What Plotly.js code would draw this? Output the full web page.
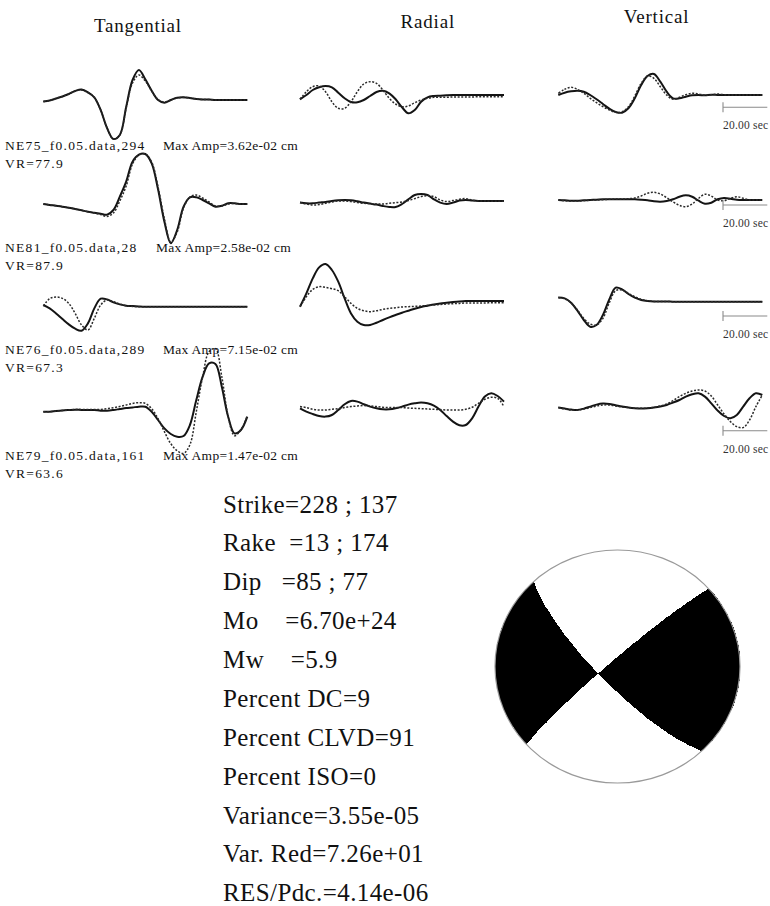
<!DOCTYPE html>
<html><head><meta charset="utf-8">
<script src="https://cdn.plot.ly/plotly-3.0.1.min.js"></script>
<style>html,body{margin:0;padding:0;background:#fff}</style>
</head><body>
<div id="chart" style="width:770px;height:906px"></div>
<script>
// ---------------- DATA ----------------
const components = ["Tangential", "Radial", "Vertical"];
const stations = ["NE75_f0.05.data,294", "NE81_f0.05.data,28", "NE76_f0.05.data,289", "NE79_f0.05.data,161"];
const maxAmp = ["3.62e-02", "2.58e-02", "7.15e-02", "1.47e-02"];
const varRed = ["77.9", "87.9", "67.3", "63.6"];
const scaleBarSeconds = 20;
const scaleBarLabel = "20.00 sec";

// time (s) of each sample
const time = [0,2.5,5,7.5,10,12.5,15,17.5,20,22.5,25,27.5,30,32.5,35,37.5,40,42.5,45,47.5,50,52.5,55,57.5,60,62.5,65,67.5,70,72.5,75,77.5,80];

// observed (solid) and synthetic (dashed) waveforms, relative amplitude
const T1_obs = [-1.5,-0.5,1.5,3.5,6,9,10.5,7.7,2.7,-10,-28,-39,-35,-7,20,30,20.7,9.3,0,-2.7,0,2.3,2.7,2,1,0.5,0.5,0,0,0,0,0,0];
const T1_syn = [-1.5,-0.5,1.5,3.5,6,9,10,7.5,2.5,-10,-28,-39,-35,-8,17,25,19,9,0.5,-2,0,2,2.5,2,1,0.5,0.5,0,0,0,0,0,0];
const R1_obs = [-3.3,1,6,8.7,10,8.7,3.3,-2.3,-6,-6.3,-4,0,4,5.3,2.7,-3.3,-11.3,-17.3,-14,-5.7,-1.3,0,0.3,0.7,1,1,1,1,1,1,1,1,1];
const R1_syn = [-3.3,4.3,9.3,10,4.3,-5.7,-12.3,-12.3,-5.7,4.3,12,14.3,12.7,6,-2.3,-8,-10.7,-10,-6.7,-4,-2.3,-1.3,-1.3,-1.3,-1,-1,-1,-1,-0.7,-0.7,-0.7,-0.7,-0.7];
const V1_obs = [1,3.3,4.7,5.3,4.3,1,-3.3,-8,-12.7,-16,-16.7,-12.3,-2.3,11,20,22,14.3,4.3,-2.3,-2.3,-0.7,0.7,1,0.7,1.3,1,1,1,1,1,1,1,1];
const V1_syn = [2.7,6.7,8.7,6.7,2.7,-2.3,-6.7,-10.7,-14,-16.3,-15.7,-10.7,0,12.7,20,17.7,9.3,1,-3.3,-1.3,1.3,2.7,2,0.7,1.3,2,1.3,1,1,1,1,1,1];

const T2_obs = [0,-1,-1.7,-2.7,-3.7,-5,-6.3,-7.7,-8.7,-9.7,-10.7,-6,7.3,22.3,42.3,49.3,50,40.7,14.7,-17.7,-39.3,-26,-2.7,6.7,6.7,4,0.7,-2.7,-1.7,0.7,0.7,0,0];
const T2_syn = [0,-1,-1.7,-2.7,-3.7,-5,-6.3,-7.7,-9,-10.5,-12.5,-9,3,18,40,49,50,42,17,-15,-38,-28,-4,7,9,6,2,-2,-2,0,0.5,0,0];
const R2_obs = [-1.3,-2,-2,-1.3,-0.7,0.3,1,1.3,1,0,-1.3,-2.3,-3.3,-4.7,-5.7,-5.7,-2.7,2,6.3,7.3,6.3,2,-1.3,-2.7,-1.3,0.7,1.3,0.7,0.3,0.3,0.3,0.3,0.3];
const R2_syn = [-1.3,-2.7,-3.7,-3.3,-2,-0.7,0.3,0.3,-0.3,-1.3,-2,-2.3,-2.7,-2.7,-2,-1.3,-0.7,0.7,2.7,4.7,5.7,4.7,1.3,-0.3,0.7,2,2.7,1.3,0.3,0.3,0,0,0];
const V2_obs = [0,-0.3,-0.7,-0.7,-0.3,0,0.3,0.7,0.7,0.7,0.7,0.7,0.7,0.3,-0.3,-1.3,-1.7,-1,0.7,3.3,4.7,3.3,-0.7,-3.7,-2.7,0.7,2,1.3,0.3,0,0,0,0];
const V2_syn = [0,-0.7,-1,-1,-0.7,-0.3,0,0.3,0.7,1,1,1.3,2,4,6.7,7.7,6,2.3,-2,-5.3,-6.7,-4,1.7,5.7,4,0,-0.7,1.7,3.3,1.7,0,0,0];

const T3_obs = [1.7,-1.7,-6.7,-12.3,-17.7,-22,-24,-16.7,-1.7,8,7.3,4.3,2.3,1,0.7,0.3,0,0,0,0,0,0,0,0,0,0,0,0,0,0,0,0,0];
const T3_syn = [0.7,8,9.7,8.3,3.3,-6.7,-18.3,-23.3,-11.7,1.7,6.7,5,2.7,1,0.3,0,0,0,0,0,0,0,0,0,0,0,0,0,0,0,0,0,0];
const R3_obs = [-5,8.3,23.3,34.3,37.7,31.7,20,3.3,-11.7,-20,-23.3,-23.3,-21,-18.3,-15.7,-13.3,-11,-9,-7,-5.3,-4,-2.7,-1.7,-1,-0.3,0.3,0.7,0.7,0.7,0.7,0.7,0.7,0.7];
const R3_syn = [-5,5,12.3,15,14.3,13,11,5,-1.7,-6.7,-9,-10,-9,-7.7,-6.7,-6,-5.3,-5,-4.7,-4.3,-3.7,-3.3,-2.7,-2.3,-2,-1.7,-1.3,-1.3,-1.3,-1.3,-1,-1,-1];
const V3_obs = [4.3,3.3,-1,-9,-18.3,-25,-23.3,-13.3,2.3,14,12.3,7.7,4,1.7,0.7,0.3,0.3,0.3,0,0,0,0,0,0,0,0,0,0,0,0,0,0,0];
const V3_syn = [4.3,3,-1,-8.3,-16.7,-22.3,-23.3,-16.7,-1,11,11.7,8.3,5,2.3,1,0.3,0.3,0.3,0,0,0,0,0,0,0,0,0,0,0,0,0,0,0];

const T4_obs = [0,0,0.7,1.3,1.7,2,1.7,1.7,1.7,1,1,1.7,2.7,3.7,4.3,5,5,0,-8.3,-16.7,-22.3,-25,-24.3,-13.3,11.7,35,48.3,47.7,25,-5,-21.7,-18.3,-5];
const T4_syn = [0,0,0.7,1.3,1.7,2.3,2.3,2.3,2.3,2.3,3,4,5.3,6.7,8.3,9,8.3,3,-7,-20,-32,-39,-41.7,-33,0,35,60,63,35,-5,-24,-18,-4];
const R4_obs = [0,-3.3,-5.7,-7.7,-8.3,-6.7,-1.7,4,7.3,6.7,4,1.7,0,-1,-1,0,1.7,3.7,5,5.7,5,2.7,-1.7,-7.7,-13.3,-17,-16.7,-10,1.7,11.7,15,12.3,6.7];
const R4_syn = [1.7,0.7,-1,-1.7,-1.7,-1,-0.3,0.7,1.7,2.3,2.7,2.3,1.7,1,0.7,0.7,0.7,0.3,0,-0.3,-0.7,-1,-1.3,-1.7,-1.7,-1.7,-1,1,5,9,11,10,1.7];
const V4_obs = [0.7,-0.3,-1.3,-1.7,-0.3,1.7,3.7,4.7,4.3,3,1.7,0.7,0,-0.3,0,0.7,1.7,3.3,5.7,8.3,11.7,14,15,11.7,5,-2.3,-7.7,-10,-6.7,1.7,10,15,13.3];
const V4_syn = [0.7,-0.7,-1.7,-1.7,-0.7,0.7,2.3,3.3,3.3,2.3,1.3,0.7,0,0,0.3,1,2.3,4.3,7.7,11.7,15,17.3,18.3,17.3,12.3,3.3,-5.7,-13.3,-18.3,-19.3,-11.7,1.7,13.3];

// source parameters
const strike = [228, 137];
const rake = [13, 174];
const dip = [85, 77];
const Mo = "6.70e+24";
const Mw = "5.9";
const percentDC = 9;
const percentCLVD = 91;
const percentISO = 0;
const variance = "3.55e-05";
const varRedTotal = "7.26e+01";
const resPdc = "4.14e-06";

// ---------------- LAYOUT / DRAWING ----------------
const W = 770, H = 906;
const px = x => x / W;
const py = y => 1 - y / H;
const FONT = "Liberation Serif, Times New Roman, serif";

const obs = [[T1_obs, R1_obs, V1_obs], [T2_obs, R2_obs, V2_obs], [T3_obs, R3_obs, V3_obs], [T4_obs, R4_obs, V4_obs]];
const syn = [[T1_syn, R1_syn, V1_syn], [T2_syn, R2_syn, V2_syn], [T3_syn, R3_syn, V3_syn], [T4_syn, R4_syn, V4_syn]];

const colX0 = [43.3, 300, 558.3];          // panel start (px)
const pxPerSec = 2.55;
const rowBase = [[100, 96, 96], [204, 201.3, 200], [306.7, 301.7, 301.7], [411.7, 408.3, 408.3]];
const halfH = 72;

const data = [];
const layout = {
  width: W, height: H,
  margin: {l: 0, r: 0, t: 0, b: 0},
  paper_bgcolor: "#ffffff", plot_bgcolor: "rgba(0,0,0,0)",
  showlegend: false,
  annotations: [], shapes: []
};
const letterSpacing = [];
function addAnn(a, ls) { layout.annotations.push(a); letterSpacing.push(ls || 0); }

const hidden = {visible: false, showgrid: false, zeroline: false, fixedrange: true};

for (let r = 0; r < 4; r++) {
  for (let c = 0; c < 3; c++) {
    const k = r * 3 + c + 1;
    const xa = "xaxis" + k, ya = "yaxis" + k;
    const x0 = colX0[c], b = rowBase[r][c];
    layout[xa] = Object.assign({}, hidden, {
      domain: [px(x0 - 5), Math.min(1, px(x0 + 209))],
      range: [-5 / pxPerSec, 80 + 5 / pxPerSec], anchor: "y" + k
    });
    layout[ya] = Object.assign({}, hidden, {
      domain: [py(b + halfH), py(b - halfH)],
      range: [-halfH, halfH], anchor: "x" + k
    });
    data.push({x: time, y: obs[r][c], xaxis: "x" + k, yaxis: "y" + k, type: "scatter", mode: "lines",
      line: {color: "#141414", width: 2, shape: "spline", smoothing: 1}, hoverinfo: "skip"});
    data.push({x: time, y: syn[r][c], xaxis: "x" + k, yaxis: "y" + k, type: "scatter", mode: "lines",
      line: {color: "#2a2a2a", width: 1.5, dash: "2px,1.6px", shape: "spline", smoothing: 1}, hoverinfo: "skip"});
  }
}

// scale bars (vertical column)
const barOffset = [-11.3, -5, -14.3, -22.4];
const barStart = (723 - colX0[2]) / pxPerSec;
for (let r = 0; r < 4; r++) {
  const k = r * 3 + 3;
  layout.shapes.push({type: "line", xref: "x" + k, yref: "y" + k,
    x0: barStart, x1: barStart + scaleBarSeconds, y0: barOffset[r], y1: barOffset[r],
    line: {color: "#8a8a8a", width: 1.1}});
  layout.shapes.push({type: "line", xref: "x" + k, yref: "y" + k,
    x0: barStart, x1: barStart, y0: barOffset[r] - 5, y1: barOffset[r] + 5,
    line: {color: "#8a8a8a", width: 1.1}});
  addAnn({xref: "x" + k, yref: "y" + k, x: barStart - 0.8, y: barOffset[r] - 18, xanchor: "left", yanchor: "middle",
    text: scaleBarLabel, showarrow: false, align: "left",
    font: {family: FONT, size: 11.5, color: "#333"}}, 0.2);
}

// component titles
const titleX = [137.5, 428, 656], titleY = [25, 21, 17];
components.forEach((t, i) => addAnn({xref: "paper", yref: "paper", x: px(titleX[i]), y: py(titleY[i]),
  xanchor: "center", yanchor: "middle", text: t, showarrow: false, align: "center",
  font: {family: FONT, size: 19, color: "#111"}}, 0.8));

// station labels (two lines each) + max amplitude text
const labMidY = [154.5, 256.5, 358.5, 464.5];
const labFont = 13.5, lineGap = 1.3 * labFont / 2;
const maxAmpX = [162, 155, 162, 162];
stations.forEach((s, i) => {
  addAnn({xref: "paper", yref: "paper", x: px(4), y: py(labMidY[i]), xanchor: "left", yanchor: "middle",
    text: s + "<br>VR=" + varRed[i],
    showarrow: false, align: "left", borderpad: 0,
    font: {family: FONT, size: labFont, color: "#111"}}, 1.3);
  addAnn({xref: "paper", yref: "paper", x: px(maxAmpX[i]), y: py(labMidY[i] - lineGap), xanchor: "left", yanchor: "middle",
    text: "Max Amp=" + maxAmp[i] + " cm",
    showarrow: false, align: "left", borderpad: 0,
    font: {family: FONT, size: labFont, color: "#111"}}, 0.3);
});

// source parameter block
const nb = "\u00a0";
const params = [
  "Strike=" + strike[0] + " ; " + strike[1],
  "Rake" + nb.repeat(2) + "=" + rake[0] + " ; " + rake[1],
  "Dip" + nb.repeat(3) + "=" + dip[0] + " ; " + dip[1],
  "Mo" + nb.repeat(4) + "=" + Mo,
  "Mw" + nb.repeat(4) + "=" + Mw,
  "Percent DC=" + percentDC,
  "Percent CLVD=" + percentCLVD,
  "Percent ISO=" + percentISO,
  "Variance=" + variance,
  "Var. Red=" + varRedTotal,
  "RES/Pdc.=" + resPdc
];
const paramY = [504.5, 542.8, 581, 620, 659.5, 698.5, 737, 776.5, 815, 853.5, 892.5];
params.forEach((p, i) => addAnn({xref: "paper", yref: "paper", x: px(221), y: py(paramY[i]),
  xanchor: "left", yanchor: "middle", text: p, showarrow: false, align: "left",
  font: {family: FONT, size: 25, color: "#111"}}, 0.4));

// ---------------- BEACHBALL (lower hemisphere, equal area) ----------------
function momentTensor(s, d, l) {
  const f = s * Math.PI / 180, dd = d * Math.PI / 180, la = l * Math.PI / 180;
  const sd = Math.sin(dd), cd = Math.cos(dd), s2d = Math.sin(2 * dd), c2d = Math.cos(2 * dd);
  const sf = Math.sin(f), cf = Math.cos(f), s2f = Math.sin(2 * f), c2f = Math.cos(2 * f);
  const sl = Math.sin(la), cl = Math.cos(la);
  return {
    xx: -(sd * cl * s2f + s2d * sl * sf * sf),
    xy: sd * cl * c2f + 0.5 * s2d * sl * s2f,
    xz: -(cd * cl * cf + c2d * sl * sf),
    yy: sd * cl * s2f - s2d * sl * cf * cf,
    yz: -(cd * cl * sf - c2d * sl * cf),
    zz: s2d * sl
  };
}
const M = momentTensor(strike[0], dip[0], rake[0]);
const N = 480;
const gx = [], gy = [], gz = [];
for (let i = 0; i < N; i++) { gx.push(-1 + 2 * i / (N - 1)); gy.push(-1 + 2 * i / (N - 1)); }
for (let j = 0; j < N; j++) {
  const row = [];
  for (let i = 0; i < N; i++) {
    const X = gx[i], Y = gy[j];
    const rr = Math.sqrt(X * X + Y * Y);
    if (rr > 1) { row.push(null); continue; }
    const inc = 2 * Math.asin(Math.min(1, rr / Math.SQRT2));
    const az = Math.atan2(X, Y);
    const n0 = Math.sin(inc) * Math.cos(az), n1 = Math.sin(inc) * Math.sin(az), n2 = Math.cos(inc);
    const A = M.xx * n0 * n0 + M.yy * n1 * n1 + M.zz * n2 * n2 +
      2 * (M.xy * n0 * n1 + M.xz * n0 * n2 + M.yz * n1 * n2);
    row.push(A > 0 ? 1 : 0);
  }
  gz.push(row);
}
const bbCx = 617.5, bbCy = 666.5, bbRx = 122.5, bbRy = 116.5, pad = 1.03;
layout.xaxis13 = Object.assign({}, hidden, {domain: [px(bbCx - bbRx * pad), px(bbCx + bbRx * pad)], range: [-pad, pad], anchor: "y13"});
layout.yaxis13 = Object.assign({}, hidden, {domain: [py(bbCy + bbRy * pad), py(bbCy - bbRy * pad)], range: [-pad, pad], anchor: "x13"});
data.push({type: "heatmap", x: gx, y: gy, z: gz, xaxis: "x13", yaxis: "y13",
  zmin: 0, zmax: 1, colorscale: [[0, "#ffffff"], [1, "#000000"]], showscale: false, zsmooth: false, hoverinfo: "skip"});
layout.shapes.push({type: "circle", xref: "x13", yref: "y13", x0: -1, x1: 1, y0: -1, y1: 1,
  line: {color: "#9a9a9a", width: 1.2}});

// per-annotation letter spacing
const css = letterSpacing.map((v, i) => v ? 'g.annotation[data-index="' + i + '"] text{letter-spacing:' + v + 'px}' : "").join("\n");
const st = document.createElement("style"); st.textContent = css; document.head.appendChild(st);

Plotly.newPlot("chart", data, layout, {staticPlot: true, displayModeBar: false});
</script>
</body></html>
